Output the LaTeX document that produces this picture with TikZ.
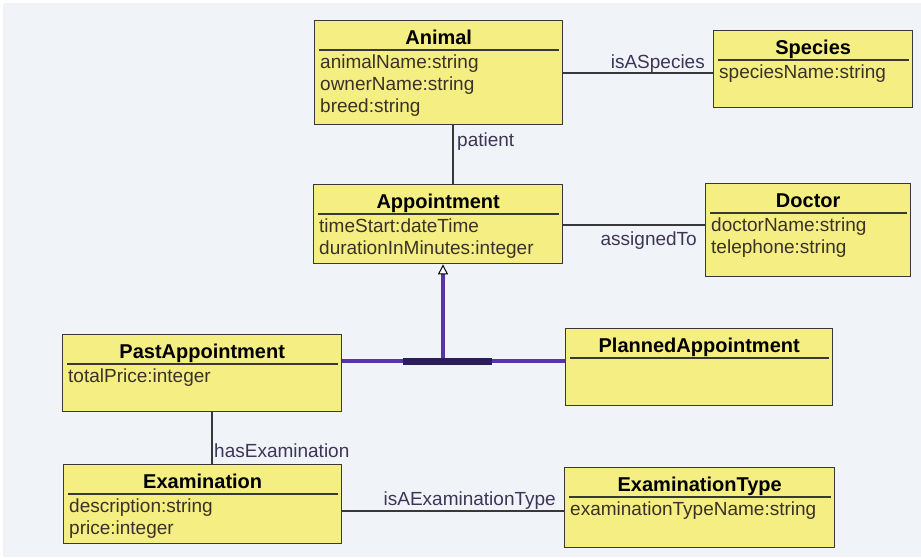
\documentclass[tikz,border=0pt]{standalone}
\usepackage{fontspec}
\setmainfont{Liberation Sans}
\usetikzlibrary{calc,arrows.meta}

\definecolor{canvas}{HTML}{F0F4F8}
\definecolor{classfill}{HTML}{F5EE82}
\definecolor{classline}{HTML}{383838}
\definecolor{attrtext}{HTML}{3A3226}
\definecolor{labeltext}{HTML}{3E3458}
\definecolor{genpurple}{HTML}{5A33A8}
\definecolor{genbar}{HTML}{2C1D5A}

\tikzset{
  classbox/.style={draw=classline, fill=classfill, line width=1.4pt, inner sep=0pt, rectangle},
  classtitle/.style={font=\fontsize{20}{24}\selectfont\bfseries, text=black, inner sep=0pt},
  classsep/.style={draw=classline, line width=1.3pt},
  classattr/.style={font=\fontsize{19}{22}\selectfont, text=attrtext, inner sep=0pt},
  assoc/.style={draw=classline, line width=1.3pt},
  assoclabel/.style={font=\fontsize{19}{22}\selectfont, text=labeltext, inner sep=0pt},
  genline/.style={draw=genpurple, line width=3.6pt},
  genjoin/.style={draw=genbar, line width=7pt},
}

% class box: name, left, top, width, height, title
\newcommand{\umlentity}[6]{%
  \node[classbox, minimum width=#4pt, minimum height=#5pt, anchor=north west] (#1) at (#2,#3) {};
  \node[classtitle, anchor=base] (#1-title) at ($(#1.north)+(0,24)$) {#6};
  \draw[classsep] ($(#1.north west)+(5,30)$) -- ($(#1.north east)+(-4,30)$);
}
% attribute lines of a class box
\newcommand{\umlattrs}[2]{%
  \foreach \a [count=\i] in {#2} {
    \node[classattr, anchor=base west] (#1-attr\i) at ($(#1.north west)+(6,48+22*\i-22)$) {\a};
  }
}

\begin{document}
\begin{tikzpicture}[x=1pt, y=-1pt]
  \useasboundingbox (0,0) rectangle (921,557);
  \fill[white] (0,0) rectangle (921,557);
  \fill[canvas] (3,3) rectangle (921,557);

  % classes
  \umlentity{animal}{314}{20}{248}{104}{Animal}
  \umlattrs{animal}{animalName:string, ownerName:string, breed:string}

  \umlentity{species}{713}{30}{199}{77}{Species}
  \umlattrs{species}{speciesName:string}

  \umlentity{appointment}{313}{184}{249}{79}{Appointment}
  \umlattrs{appointment}{timeStart:dateTime, durationInMinutes:integer}

  \umlentity{doctor}{705}{183}{205}{93}{Doctor}
  \umlattrs{doctor}{doctorName:string, telephone:string}

  \umlentity{pastappt}{62}{334}{279}{77}{PastAppointment}
  \umlattrs{pastappt}{totalPrice:integer}

  \umlentity{plannedappt}{565}{328}{267}{77}{PlannedAppointment}

  \umlentity{exam}{63}{464}{278}{79}{Examination}
  \umlattrs{exam}{description:string, price:integer}

  \umlentity{examtype}{564}{467}{270}{80}{ExaminationType}
  \umlattrs{examtype}{examinationTypeName:string}

  % associations
  \draw[assoc] (animal.east |- 0,73) -- (species.west |- 0,73);
  \node[assoclabel, anchor=base east] (lbl-species) at (705,68) {isASpecies};

  \draw[assoc] (animal.south -| 453,0) -- (appointment.north -| 453,0);
  \node[assoclabel, anchor=base west] (lbl-patient) at (457,146) {patient};

  \draw[assoc] (appointment.east |- 0,225) -- (doctor.west |- 0,225);
  \node[assoclabel, anchor=base east] (lbl-doctor) at (697,245) {assignedTo};

  \draw[assoc] (pastappt.south -| 212,0) -- (exam.north -| 212,0);
  \node[assoclabel, anchor=base west] (lbl-exam) at (214,457) {hasExamination};

  \draw[assoc] (exam.east |- 0,511) -- (examtype.west |- 0,511);
  \node[assoclabel, anchor=base east] (lbl-examtype) at (556,505) {isAExaminationType};

  % generalization
  \coordinate (genpoint) at (443,361);
  \draw[genline] (pastappt.east |- genpoint) -- (plannedappt.west |- genpoint);
  \draw[genline, -{Triangle[width=10pt, length=10pt, color=black, fill=white, line width=1pt]}]
    (genpoint) -- (appointment.south -| genpoint);
  \draw[genjoin] ($(genpoint)+(-40,0)$) -- ($(genpoint)+(49,0)$);
\end{tikzpicture}
\end{document}
